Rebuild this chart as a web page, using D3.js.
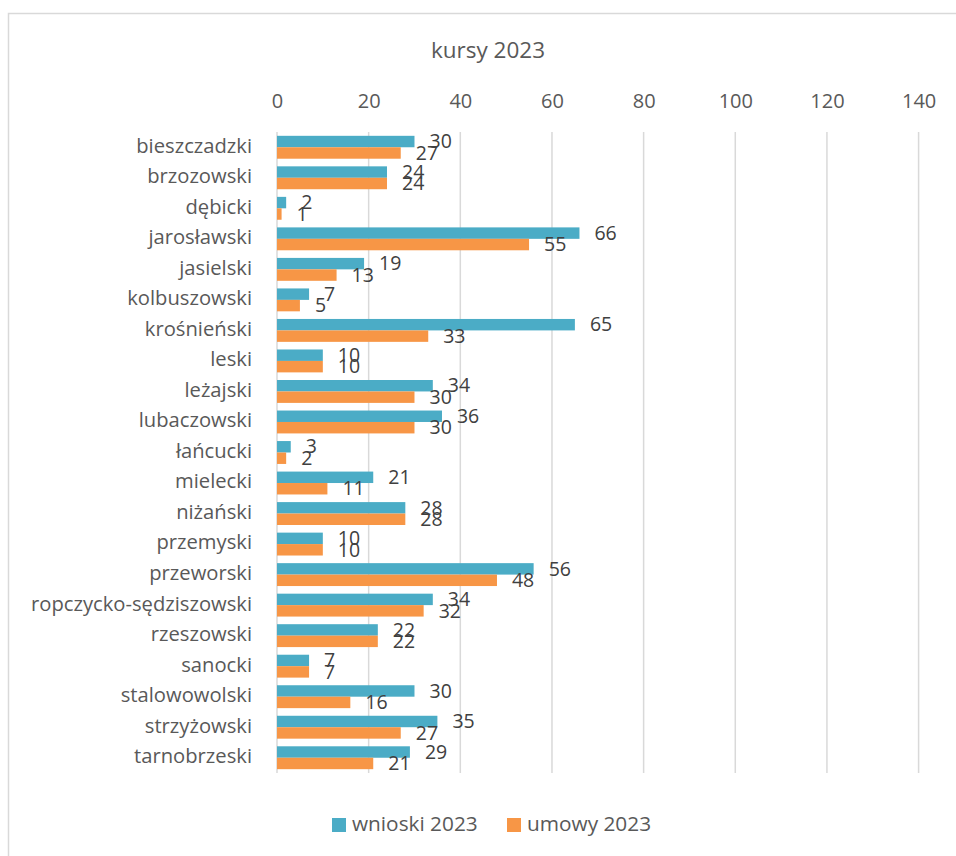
<!DOCTYPE html>
<html>
<head>
<meta charset="utf-8">
<script src="https://cdn.jsdelivr.net/npm/d3@7"></script>
<style>
  body { margin: 0; background: #fff; }
  svg { display: block; font-family: "Open Sans", sans-serif; }
</style>
</head>
<body>
<svg id="chart"></svg>
<script>
const title = "kursy 2023";
const districts = ["bieszczadzki", "brzozowski", "dębicki", "jarosławski", "jasielski", "kolbuszowski",
  "krośnieński", "leski", "leżajski", "lubaczowski", "łańcucki", "mielecki", "niżański", "przemyski",
  "przeworski", "ropczycko-sędziszowski", "rzeszowski", "sanocki", "stalowowolski", "strzyżowski", "tarnobrzeski"];
const wnioski = [30, 24, 2, 66, 19, 7, 65, 10, 34, 36, 3, 21, 28, 10, 56, 34, 22, 7, 30, 35, 29];
const umowy = [27, 24, 1, 55, 13, 5, 33, 10, 30, 30, 2, 11, 28, 10, 48, 32, 22, 7, 16, 27, 21];
const seriesNames = ["wnioski 2023", "umowy 2023"];
const xTicks = [0, 20, 40, 60, 80, 100, 120, 140];

const width = 956, height = 856;
const colors = ["#4BACC6", "#F79646"];
const textColor = "#595959";

const svg = d3.select("#chart").attr("width", width).attr("height", height);

// outer chart frame (cut off at right and bottom)
svg.append("rect")
  .attr("x", 8.5).attr("y", 13.5)
  .attr("width", width + 20).attr("height", height + 20)
  .attr("fill", "none").attr("stroke", "#D9D9D9").attr("stroke-width", 1.5);

const x = d3.scaleLinear().domain([0, 140]).range([277, 918.6]);
const y = d3.scaleBand().domain(districts).range([132, 773])
  .paddingInner(0.25).paddingOuter(0.125);
const ySub = d3.scaleBand().domain([0, 1]).range([0, y.bandwidth()]);

// title
svg.append("text")
  .attr("x", 488).attr("y", 52)
  .attr("text-anchor", "middle").attr("dominant-baseline", "middle")
  .attr("fill", textColor).style("font-size", "22.5px")
  .text(title);

// gridlines
svg.append("g").selectAll("line")
  .data(xTicks)
  .join("line")
  .attr("x1", d => x(d)).attr("x2", d => x(d))
  .attr("y1", 132).attr("y2", 773)
  .attr("stroke", "#D9D9D9").attr("stroke-width", 1.5);

// top axis tick labels
const axis = svg.append("g")
  .attr("transform", "translate(0,108)")
  .call(d3.axisTop(x).tickValues(xTicks).tickSize(0).tickPadding(0));
axis.select(".domain").remove();
axis.selectAll("text")
  .attr("fill", textColor)
  .style("font-size", "20px")
  .style("font-family", "'Open Sans', sans-serif");

// category labels
svg.append("g").selectAll("text")
  .data(districts)
  .join("text")
  .attr("x", 252)
  .attr("y", d => y(d) + y.bandwidth() / 2)
  .attr("text-anchor", "end").attr("dominant-baseline", "middle")
  .attr("fill", textColor).style("font-size", "20.2px")
  .text(d => d);

// bars and value labels
[wnioski, umowy].forEach((vals, s) => {
  const g = svg.append("g");
  g.selectAll("rect")
    .data(vals)
    .join("rect")
    .attr("x", x(0))
    .attr("y", (d, i) => y(districts[i]) + ySub(s))
    .attr("width", d => x(d) - x(0))
    .attr("height", ySub.bandwidth())
    .attr("fill", colors[s]);

  g.selectAll("text")
    .data(vals)
    .join("text")
    .attr("x", d => x(d) + 15)
    .attr("y", (d, i) => y(districts[i]) + ySub(s) + ySub.bandwidth() / 2 + 1.5)
    .attr("dominant-baseline", "middle")
    .attr("fill", "#404040").style("font-size", "19.5px")
    .text(d => d);
});

// legend
const legendX = [332, 507];
const legend = svg.append("g").selectAll("g")
  .data(seriesNames)
  .join("g")
  .attr("transform", (d, i) => `translate(${legendX[i]},818)`);
legend.append("rect")
  .attr("width", 14).attr("height", 14)
  .attr("fill", (d, i) => colors[i]);
legend.append("text")
  .attr("x", 20).attr("y", 7.5)
  .attr("dominant-baseline", "middle")
  .attr("fill", textColor).style("font-size", "20.8px")
  .text(d => d);
</script>
</body>
</html>
